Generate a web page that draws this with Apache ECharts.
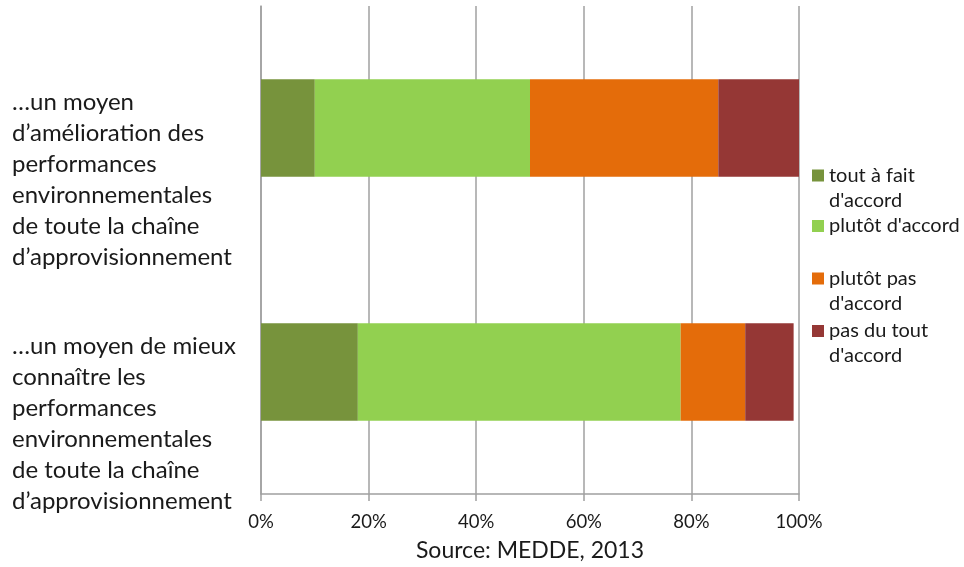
<!DOCTYPE html>
<html>
<head>
<meta charset="utf-8">
<script src="https://cdn.jsdelivr.net/npm/echarts@6/dist/echarts.min.js"></script>
<style>html,body{margin:0;padding:0;background:#fff}#c{width:964px;height:567px}</style>
</head>
<body>
<div id="c"></div>
<script>
const categories = [
  "…un moyen de mieux\nconnaître les\nperformances\nenvironnementales\nde toute la chaîne\nd’approvisionnement",
  "…un moyen\nd’amélioration des\nperformances\nenvironnementales\nde toute la chaîne\nd’approvisionnement"
];
const seriesNames = ["tout à fait d'accord", "plutôt d'accord", "plutôt pas d'accord", "pas du tout d'accord"];
const legendLabels = ["tout à fait\nd'accord", "plutôt d'accord", "plutôt pas\nd'accord", "pas du tout\nd'accord"];
const toutAFait = [18, 10];
const plutot = [60, 40];
const plutotPas = [12, 35];
const pasDuTout = [9, 15];
const xTicks = [0, 20, 40, 60, 80, 100];
const sourceText = "Source: MEDDE, 2013";
const colors = ["#77933c", "#92d050", "#e46c0a", "#953735"];
const values = [toutAFait, plutot, plutotPas, pasDuTout];

const FONT = "Lato";
const legendTops = [163, 213.5, 266, 318.5];
const tallIcon = 'path://M0,0H12V12H0Z M6,37L6.01,37.01L6,37.01Z';

const chart = echarts.init(document.getElementById('c'), null, {renderer: 'canvas'});
chart.setOption({
  animation: false,
  backgroundColor: '#fff',
  grid: {left: 261, right: 165, top: 6, bottom: 73, containLabel: false, outerBoundsMode: 'none'},
  xAxis: {
    type: 'value', min: xTicks[0], max: xTicks[xTicks.length - 1], interval: 20,
    name: sourceText, nameLocation: 'middle', nameGap: 45,
    nameTextStyle: {fontFamily: FONT, fontSize: 23, color: '#1a1a1a'},
    axisLine: {show: true, lineStyle: {color: '#a0a0a0', width: 1.5}},
    axisTick: {show: true, length: 7, lineStyle: {color: '#a0a0a0', width: 1.5}},
    splitLine: {show: true, lineStyle: {color: '#a0a0a0', width: 1.5}},
    axisLabel: {formatter: v => v + '%', fontFamily: FONT, fontSize: 18.5, color: '#1a1a1a', margin: 19}
  },
  yAxis: {
    type: 'category', data: categories,
    axisLine: {show: true, lineStyle: {color: '#a0a0a0', width: 1.5}},
    axisTick: {show: false},
    axisLabel: {
      interval: 0, align: 'left', margin: 249, hideOverlap: false,
      formatter: v => '{s| }\n' + v.split('\n').map(l => '{t|' + l + '}').join('\n'),
      rich: {
        s: {fontSize: 10, lineHeight: 104},
        t: {fontFamily: FONT, fontSize: 24, lineHeight: 31, color: '#1a1a1a', align: 'left'}
      }
    }
  },
  legend: seriesNames.map((n, i) => {
    const twoLine = legendLabels[i].indexOf('\n') >= 0;
    return {
      data: [n],
      orient: 'vertical', left: 812, top: legendTops[i], padding: 0,
      itemWidth: 12, itemHeight: twoLine ? 37 : 12,
      icon: twoLine ? tallIcon : 'rect',
      formatter: () => legendLabels[i],
      textStyle: {fontFamily: FONT, fontSize: 20, lineHeight: 25, color: '#1a1a1a'}
    };
  }),
  series: seriesNames.map((n, i) => ({
    name: n, type: 'bar', stack: 'all', data: values[i],
    barCategoryGap: '60%',
    itemStyle: {color: colors[i]}
  }))
});
</script>
</body>
</html>
